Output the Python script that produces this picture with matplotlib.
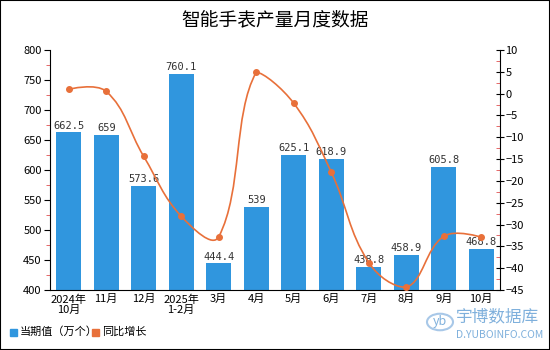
import matplotlib
matplotlib.use("Agg")
import matplotlib.pyplot as plt
import numpy as np
from matplotlib.patches import Rectangle, Circle
from matplotlib.path import Path
from matplotlib.patches import PathPatch
from matplotlib.ticker import MultipleLocator

plt.rcParams['font.family'] = ['Noto Sans CJK SC', 'DejaVu Sans']

categories = ["2024年\n10月", "11月", "12月", "2025年\n1-2月", "3月", "4月",
              "5月", "6月", "7月", "8月", "9月", "10月"]
output = [662.5, 659, 573.6, 760.1, 444.4, 539, 625.1, 618.9, 438.8, 458.9, 605.8, 468.8]
growth = [1.0, 0.5, -14.4, -28.1, -32.8, 4.9, -2.2, -18.0, -38.7, -44.4, -32.7, -32.9]
output_labels = ["662.5", "659", "573.6", "760.1", "444.4", "539", "625.1",
                 "618.9", "438.8", "458.9", "605.8", "468.8"]

BAR_COLOR = "#3096de"
LINE_COLOR = "#e8703a"


def smooth_path(pts, k=0.4):
    # bezier through the points, control points kept inside the bounding box
    # of all points (same idea as the web chart library's smooth line)
    pts = np.asarray(pts, float)
    lo = pts.min(axis=0)
    hi = pts.max(axis=0)
    n = len(pts)
    cin = [None] * n
    cout = [None] * n
    cin[0] = cout[0] = pts[0]
    cin[-1] = cout[-1] = pts[-1]
    for i in range(1, n - 1):
        prev, cur, nxt = pts[i - 1], pts[i], pts[i + 1]
        v = (nxt - prev) * k
        d0 = np.hypot(*(cur - prev))
        d1 = np.hypot(*(nxt - cur))
        tot = d0 + d1
        cin[i] = np.clip(cur - v * d0 / tot, lo, hi)
        cout[i] = np.clip(cur + v * d1 / tot, lo, hi)
    verts = [pts[0]]
    codes = [Path.MOVETO]
    for i in range(n - 1):
        verts += [cout[i], cin[i + 1], pts[i + 1]]
        codes += [Path.CURVE4] * 3
    return verts, codes


fig = plt.figure(figsize=(5.5, 3.5), dpi=100)
ax = fig.add_axes([50 / 550, 1 - 290 / 350, 450 / 550, 240 / 350])
x = np.arange(len(categories))

ax.bar(x, output, width=0.67, color=BAR_COLOR, zorder=2)
for xi, v, lab in zip(x, output, output_labels):
    ax.text(xi, v + 3, lab, ha="center", va="bottom", fontsize=7.5,
            family=["DejaVu Sans Mono"], color="#333333", zorder=5)

ax.set_xlim(-0.5, len(categories) - 0.5)
ax.set_ylim(400, 800)
ax.yaxis.set_major_locator(MultipleLocator(50))
ax.yaxis.set_minor_locator(MultipleLocator(25))
ax.set_xticks(x)
ax.set_xticklabels(categories, fontsize=8, linespacing=1.0)
ax.tick_params(axis="x", length=0, pad=3)
ax.tick_params(axis="y", which="major", length=4, labelsize=8, pad=2)
ax.tick_params(axis="y", which="minor", length=3, color="#e05050")
for side in ["top", "right"]:
    ax.spines[side].set_visible(False)

ax2 = ax.twinx()
ax2.set_ylim(-45, 10)
ax2.yaxis.set_major_locator(MultipleLocator(5))
ax2.yaxis.set_minor_locator(MultipleLocator(2.5))
ax2.tick_params(axis="y", which="major", direction="inout", length=6, labelsize=8, pad=1)
ax2.tick_params(axis="y", which="minor", direction="in", length=3, color="#e05050")
for side in ["top", "left", "bottom"]:
    ax2.spines[side].set_visible(False)

# build the smooth curve in pixel space so the shape follows the drawn scale
pix = ax2.transData.transform(np.column_stack([x, growth]))
verts, codes = smooth_path(pix)
ax2.add_patch(PathPatch(Path(verts, codes), transform=None, fill=False,
                        ec=LINE_COLOR, lw=1.2, zorder=3))
ax2.plot(x, growth, "o", color=LINE_COLOR, ms=4, zorder=4)

fig.text(0.5, 1 - 20 / 350, "智能手表产量月度数据", ha="center", va="center", fontsize=13.5)

# legend
fig.patches.append(Rectangle((10 / 550, 1 - 336 / 350), 7 / 550, 7 / 350,
                             transform=fig.transFigure, color=BAR_COLOR))
fig.text(20 / 550, 1 - 332 / 350, "当期值（万个）", va="center", fontsize=8)
fig.patches.append(Rectangle((92 / 550, 1 - 336 / 350), 7 / 550, 7 / 350,
                             transform=fig.transFigure, color=LINE_COLOR))
fig.text(102 / 550, 1 - 332 / 350, "同比增长", va="center", fontsize=8)

# watermark
fig.patches.append(Circle((440 / 550, 1 - 322 / 350), 13 / 550, transform=fig.transFigure,
                          fill=False, ec="#a8c8e8", lw=1.5))
fig.text(440 / 550, 1 - 322 / 350, "yb", ha="center", va="center", fontsize=9,
         color="#7fb0dc", style="italic")
fig.text(456 / 550, 1 - 317 / 350, "宇博数据库", va="center", fontsize=12, color="#7fb0dc")
fig.text(456 / 550, 1 - 335 / 350, "D.YUBOINFO.COM", va="center", fontsize=7.5, color="#7fb0dc")

# outer border
fig.patches.append(Rectangle((0, 0), 1, 1, transform=fig.transFigure, fill=False,
                             ec="black", lw=1.5))

fig.savefig("out.png", dpi=100)
